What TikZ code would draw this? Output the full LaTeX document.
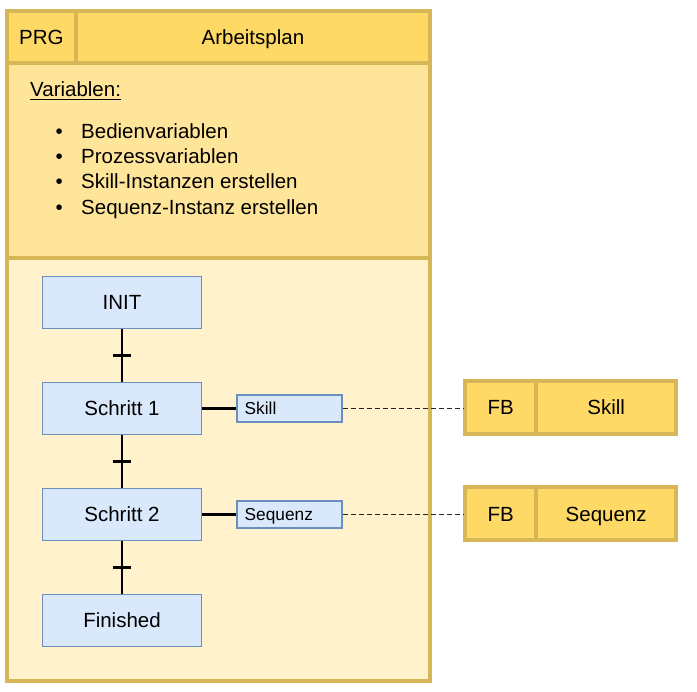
\documentclass[tikz,border=0pt]{standalone}
\usepackage{fontspec}
\setmainfont{Liberation Sans}
\definecolor{ystroke}{HTML}{D6B656}
\definecolor{yhead}{HTML}{FFD966}
\definecolor{ymid}{HTML}{FFE599}
\definecolor{ylow}{HTML}{FFF2CC}
\definecolor{bfill}{HTML}{DAE8FC}
\definecolor{bstroke}{HTML}{6C8EBF}
\newcommand{\bigfont}{\fontsize{20.5}{24}\selectfont}
\newcommand{\smallfont}{\fontsize{17.3}{20}\selectfont}
\begin{document}
\begin{tikzpicture}[x=1pt,y=-1pt,
  ybox/.style={draw=ystroke, line width=4pt, inner sep=0pt, font=\bigfont,
    text height=14.7pt, text depth=0pt},
  stepbox/.style={draw=bstroke, fill=bfill, line width=1.8pt, inner sep=0pt,
    minimum width=159pt, minimum height=52pt, font=\bigfont,
    text height=14.7pt, text depth=0pt},
  actbox/.style={draw=bstroke, fill=bfill, line width=1.8pt, inner ysep=0pt,
    inner xsep=8pt, text width=89.6pt, align=left, minimum height=27pt,
    font=\smallfont, text height=12.4pt, text depth=0pt},
  conn/.style={line width=2.2pt, black},
  dashconn/.style={line width=1.9pt, black!85, dash pattern=on 4.5pt off 3.5pt},
  txt/.style={inner sep=0pt, font=\bigfont, anchor=base west}
]
\useasboundingbox (0,0) rectangle (697,692);

% container
\node[ybox, fill=ylow, minimum width=423pt, minimum height=422.5pt] (lower) at (218,469.75) {};
\node[ybox, fill=ymid, minimum width=423pt, minimum height=195.5pt] (mid) at (218,160.75) {};
\node[ybox, fill=yhead, minimum width=69.8pt, minimum height=51.5pt] (prg) at (41.4,37.25) {PRG};
\node[ybox, fill=yhead, minimum width=353.2pt, minimum height=51.5pt] (ap) at (252.9,37.25) {Arbeitsplan};

% variables
\node[txt] (var) at (30,96.7) {Variablen:};
\draw[line width=1.3pt] ([yshift=-2.8pt]var.base west) -- ([yshift=-2.8pt]var.base east);
\node[txt] (b1) at (55.5,138.3) {•};
\node[txt] (t1) at (81,138.3) {Bedienvariablen};
\node[txt] (b2) at (55.5,163.6) {•};
\node[txt] (t2) at (81,163.6) {Prozessvariablen};
\node[txt] (b3) at (55.5,189) {•};
\node[txt] (t3) at (81,189) {Skill-Instanzen erstellen};
\node[txt] (b4) at (55.5,214.3) {•};
\node[txt] (t4) at (81,214.3) {Sequenz-Instanz erstellen};

% steps
\node[stepbox] (init) at (122,302.5) {INIT};
\node[stepbox] (s1) at (122,408.5) {Schritt 1};
\node[stepbox] (s2) at (122,514.5) {Schritt 2};
\node[stepbox] (fin) at (122,620.5) {Finished};

\draw[conn] (init.south) -- coordinate[midway] (tr1) (s1.north);
\draw[conn] (s1.south) -- coordinate[midway] (tr2) (s2.north);
\draw[conn] (s2.south) -- coordinate[midway] (tr3) (fin.north);
\draw[conn] ([xshift=-9pt]tr1) -- ([xshift=9pt]tr1);
\draw[conn] ([xshift=-9pt]tr2) -- ([xshift=9pt]tr2);
\draw[conn] ([xshift=-9pt]tr3) -- ([xshift=9pt]tr3);

% actions
\node[actbox] (sk) at (289.5,408.5) {Skill};
\node[actbox] (sq) at (289.5,514.5) {Sequenz};
\draw[conn] (s1.east) -- (sk.west);
\draw[conn] (s2.east) -- (sq.west);

% FBs
\node[ybox, fill=yhead, minimum width=70.7pt, minimum height=52.4pt] (fb1) at (500.65,407.5) {FB};
\node[ybox, fill=yhead, minimum width=140.3pt, minimum height=52.4pt] (fb1n) at (606.15,407.5) {Skill};
\node[ybox, fill=yhead, minimum width=70.7pt, minimum height=52.8pt] (fb2) at (500.65,513.9) {FB};
\node[ybox, fill=yhead, minimum width=140.3pt, minimum height=52.8pt] (fb2n) at (606.15,513.9) {Sequenz};

\draw[dashconn] (sk.east) -- (sk.east -| fb1.west);
\draw[dashconn] (sq.east) -- (sq.east -| fb2.west);
\end{tikzpicture}
\end{document}
